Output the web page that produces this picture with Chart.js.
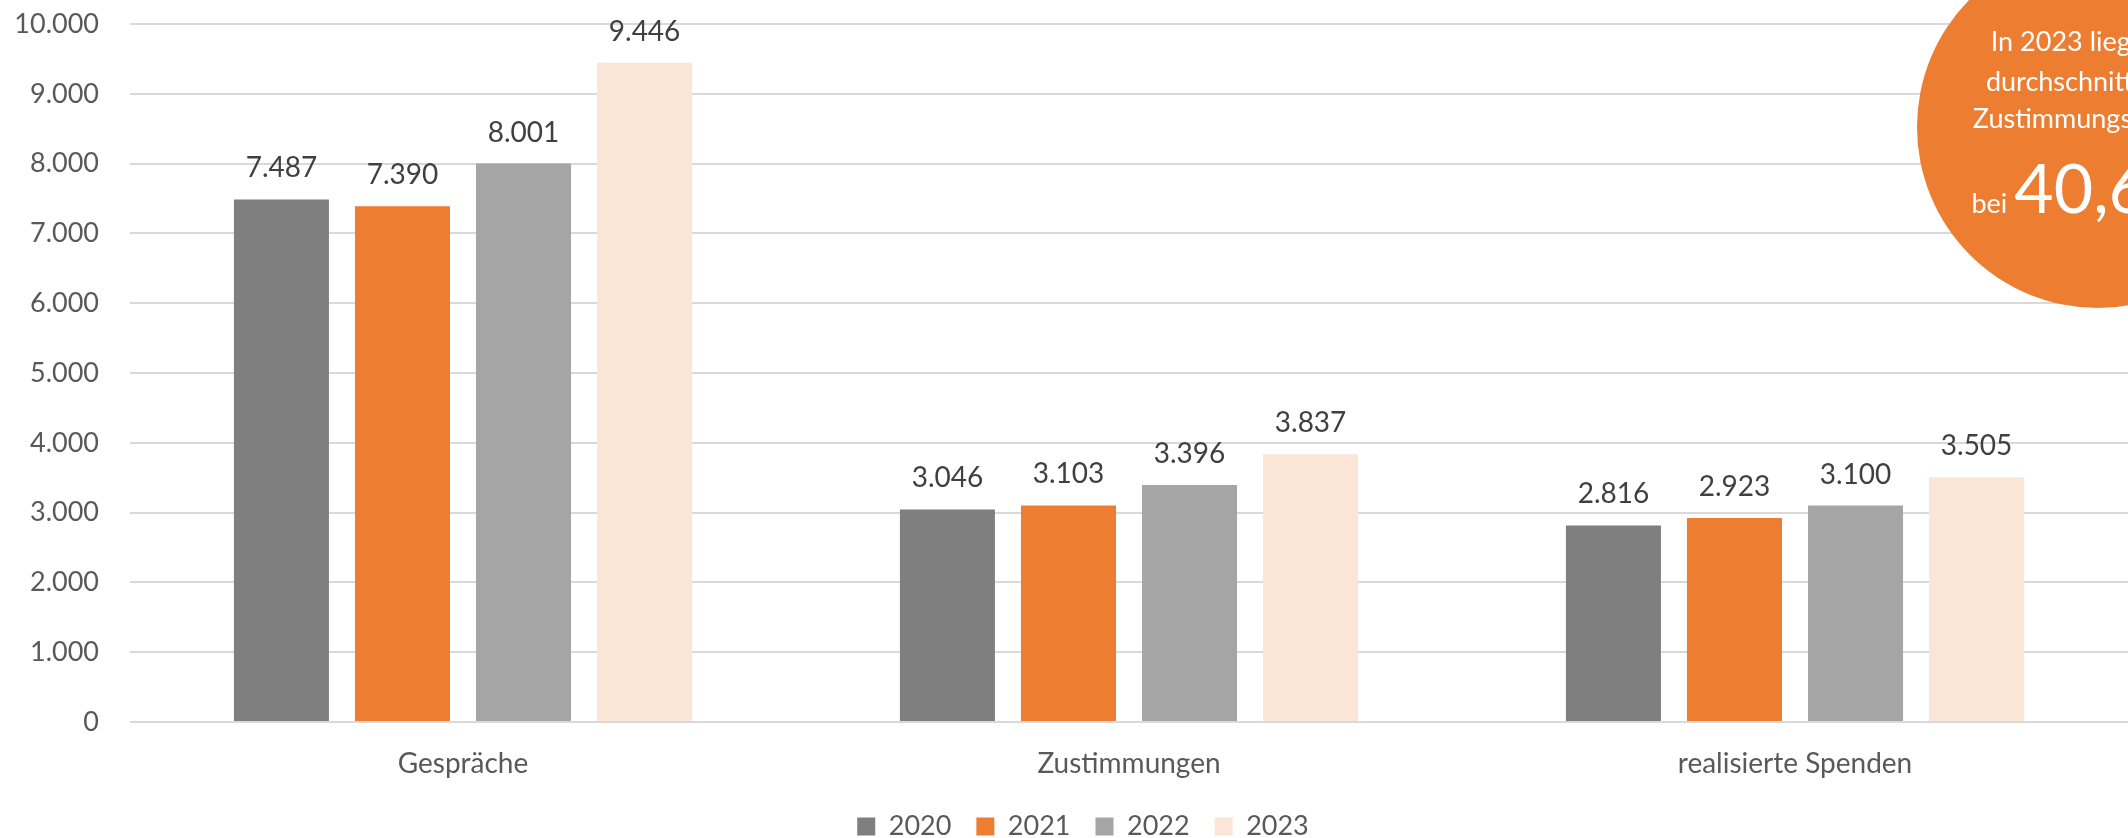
<!DOCTYPE html>
<html>
<head>
<meta charset="utf-8">
<script src="https://cdn.jsdelivr.net/npm/chart.js@4.4.1/dist/chart.umd.min.js"></script>
<style>
  html, body { margin: 0; padding: 0; overflow: hidden; background: #fff; }
  #wrap { position: relative; width: 2128px; height: 838px; overflow: hidden; }
  #grafico { position: absolute; left: 0; top: 0; }
  #kreis {
    position: absolute; left: 1917px; top: -54px; width: 362px; height: 362px;
    border-radius: 50%; background: #ed7d31; color: #fff;
    font-family: Lato, "Open Sans", sans-serif;
  }
  #kreis div { position: absolute; left: 0; width: 340px; text-align: center; white-space: nowrap; }
  .klein { font-size: 27px; }
  .gross { font-size: 68px; }
</style>
</head>
<body>
<div id="wrap">
  <canvas id="grafico" width="2128" height="838"></canvas>
  <div id="kreis">
    <div class="klein" style="top:78px;">In 2023 liegt die</div>
    <div class="klein" style="top:118px;">durchschnittliche</div>
    <div class="klein" style="top:155px;">Zustimmungsquote</div>
    <div style="top:200px;"><span class="klein">bei </span><span class="gross">40,6%</span></div>
  </div>
</div>
<script>
// Werte aus dem Bild
var kategorien = ["Gespräche", "Zustimmungen", "realisierte Spenden"];
var jahre = ["2020", "2021", "2022", "2023"];
var werte2020 = [7487, 3046, 2816];
var werte2021 = [7390, 3103, 2923];
var werte2022 = [8001, 3396, 3100];
var werte2023 = [9446, 3837, 3505];
var farben = ["#7f7f7f", "#ed7d31", "#a5a5a5", "#fbe5d6"];

function punkte(n) {
    return String(n).replace(/\B(?=(\d{3})+(?!\d))/g, ".");
}

// Werte über den Balken
var wertBeschriftung = {
    id: "wertBeschriftung",
    afterDatasetsDraw: function (chart) {
        var ctx = chart.ctx;
        ctx.save();
        ctx.font = "28px Lato";
        ctx.fillStyle = "#404040";
        ctx.textAlign = "center";
        ctx.textBaseline = "middle";
        chart.data.datasets.forEach(function (ds, i) {
            chart.getDatasetMeta(i).data.forEach(function (bar, j) {
                ctx.fillText(punkte(ds.data[j]), bar.x, bar.y - 31);
            });
        });
        ctx.restore();
    }
};

// Legende etwas nach rechts, wie im Original
var legendeVerschieben = {
    id: "legendeVerschieben",
    afterLayout: function (chart) {
        chart.legend.left += 19;
        chart.legend.right += 19;
    }
};

var reihen = [werte2020, werte2021, werte2022, werte2023];

new Chart(document.getElementById("grafico").getContext("2d"), {
    type: "bar",
    data: {
        labels: kategorien,
        datasets: jahre.map(function (j, i) {
            return {
                label: j,
                data: reihen[i],
                backgroundColor: farben[i],
                borderWidth: 0,
                categoryPercentage: 0.727,
                barPercentage: 0.785
            };
        })
    },
    options: {
        responsive: false,
        animation: false,
        layout: { padding: { top: 24, right: 0, bottom: -12, left: 0 } },
        plugins: {
            legend: {
                position: "bottom",
                labels: {
                    boxWidth: 18,
                    boxHeight: 18,
                    padding: 25,
                    color: "#595959",
                    font: { family: "Lato", size: 27 }
                }
            },
            tooltip: { enabled: false },
            title: { display: false }
        },
        scales: {
            x: {
                grid: { display: false, drawTicks: false },
                border: { display: false },
                ticks: { color: "#595959", padding: 25, font: { family: "Lato", size: 28 } },
                afterFit: function (s) { s.height = 66; }
            },
            y: {
                min: 0,
                max: 10000,
                grid: { color: "#d9d9d9", lineWidth: 2, drawTicks: true, tickLength: 31, tickColor: "rgba(0,0,0,0)" },
                border: { display: false },
                ticks: {
                    stepSize: 1000,
                    padding: 0,
                    color: "#595959",
                    font: { family: "Lato", size: 27 },
                    callback: function (v) { return punkte(v); }
                },
                afterFit: function (s) { s.width = 130; }
            }
        }
    },
    plugins: [wertBeschriftung, legendeVerschieben]
});
</script>
</body>
</html>
